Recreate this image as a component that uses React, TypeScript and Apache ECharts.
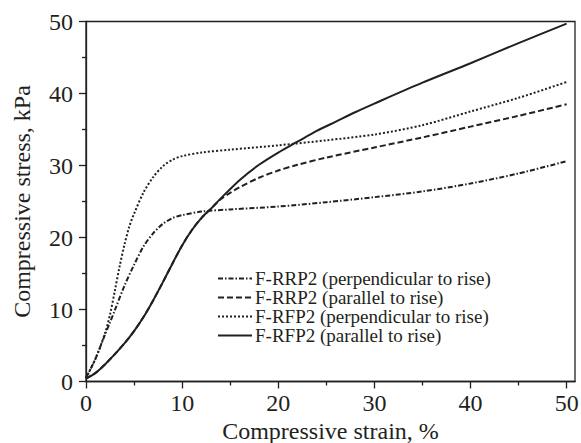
import React, { useEffect, useRef } from "react";
import * as echarts from "echarts";

const seriesNames = [
  "F-RRP2 (perpendicular to rise)",
  "F-RRP2 (parallel to rise)",
  "F-RFP2 (perpendicular to rise)",
  "F-RFP2 (parallel to rise)",
];

const rrpPerp: number[][] = [
  [0, 0.5], [1, 3.2], [2, 6.6], [2.5, 8.2], [3, 9.9], [4, 13.3], [5, 16.2], [6, 18.8],
  [7, 20.6], [8, 21.9], [9, 22.7], [10, 23.1], [12, 23.6], [15, 23.9], [20, 24.3],
  [25, 24.9], [30, 25.6], [35, 26.4], [40, 27.5], [45, 28.9], [50, 30.6],
];

const rrpPar: number[][] = [
  [0, 0.4], [1, 1.2], [2, 2.4], [3, 3.8], [4, 5.3], [5, 7], [6, 9], [7, 11.3], [8, 13.8],
  [9, 16.4], [10, 18.9], [11, 21], [12, 22.7], [13, 24], [14, 25.3], [15, 26.2], [16, 27],
  [18, 28.3], [20, 29.3], [22, 30.1], [25, 31.1], [30, 32.5], [35, 33.9], [40, 35.4],
  [45, 36.9], [50, 38.5],
];

const rfpPerp: number[][] = [
  [0, 0.5], [1, 3.2], [2, 6.8], [2.5, 9.3], [3, 12.6], [3.5, 16], [4, 19], [4.5, 21.5],
  [5, 23.3], [6, 26.3], [7, 28.4], [8, 29.9], [9, 30.8], [10, 31.3], [12, 31.8], [15, 32.2],
  [20, 32.8], [25, 33.5], [30, 34.3], [35, 35.6], [40, 37.5], [45, 39.4], [50, 41.6],
];

const rfpPar: number[][] = [
  [0, 0.4], [1, 1.2], [2, 2.4], [3, 3.8], [4, 5.3], [5, 7], [6, 9], [7, 11.3], [8, 13.8],
  [9, 16.4], [10, 18.9], [11, 21], [12, 22.7], [13, 24], [14, 25.4], [16, 28], [18, 30.1],
  [20, 31.8], [22, 33.3], [24, 34.8], [26, 36.1], [28, 37.4], [30, 38.6], [35, 41.5],
  [40, 44.2], [45, 47], [50, 49.7],
];

const xMajorTicks = [0, 10, 20, 30, 40, 50];
const xMinorTicks = [5, 15, 25, 35, 45];

const FONT = "'Liberation Serif', 'Times New Roman', serif";
const INK = "#231f20";

export default function App() {
  const ref = useRef<HTMLDivElement>(null);
  useEffect(() => {
    if (!ref.current) return;
    const chart = echarts.init(ref.current, undefined, { renderer: "svg" });
    const dashTypes: any[] = [[5, 2, 1.5, 2], [6, 3], [2, 2], "solid"];
    const datas = [rrpPerp, rrpPar, rfpPerp, rfpPar];
    chart.setOption({
      animation: false,
      backgroundColor: "#fff",
      grid: {
        left: 86,
        top: 21.5,
        width: 489,
        height: 360,
        show: true,
        borderColor: INK,
        borderWidth: 1.3,
        backgroundColor: "transparent",
        containLabel: false,
        outerBoundsMode: "none",
      },
      legend: {
        show: true,
        orient: "vertical",
        left: 212,
        top: 264,
        itemWidth: 34,
        itemHeight: 12,
        itemGap: 0,
        selectedMode: false,
        data: seriesNames,
        itemStyle: { opacity: 0 },
        textStyle: {
          fontFamily: FONT,
          fontSize: 19,
          color: INK,
          padding: [0, 0, 0, -2],
        },
      },
      xAxis: [
        {
          type: "value",
          min: 0,
          max: 50.87,
          name: "Compressive strain, %",
          nameLocation: "middle",
          nameGap: 32,
          nameTextStyle: { fontFamily: FONT, fontSize: 24, color: INK },
          axisLine: { show: true, lineStyle: { color: INK, width: 1.3 } },
          axisTick: { show: true, length: 7, customValues: xMajorTicks, lineStyle: { color: INK, width: 1.3 } },
          axisLabel: { customValues: xMajorTicks, margin: 9, fontFamily: FONT, fontSize: 24, color: INK },
          splitLine: { show: false },
        },
        {
          type: "value",
          min: 0,
          max: 50.87,
          position: "bottom",
          axisLine: { show: false },
          axisTick: { show: true, length: 4, customValues: xMinorTicks, lineStyle: { color: INK, width: 1.3 } },
          axisLabel: { show: false },
          splitLine: { show: false },
        },
      ],
      yAxis: {
        type: "value",
        min: 0,
        max: 50,
        interval: 10,
        name: "Compressive stress, kPa",
        nameLocation: "middle",
        nameGap: 52,
        nameTextStyle: { fontFamily: FONT, fontSize: 24, color: INK },
        axisLine: { show: true, lineStyle: { color: INK, width: 1.3 } },
        axisTick: { show: true, length: 7, lineStyle: { color: INK, width: 1.3 } },
        minorTick: { show: true, splitNumber: 2, length: 4, lineStyle: { color: INK, width: 1.3 } },
        axisLabel: { margin: 13, fontFamily: FONT, fontSize: 24, color: INK },
        splitLine: { show: false },
      },
      series: seriesNames.map((name, i) => ({
        name,
        type: "line",
        xAxisIndex: 0,
        data: datas[i],
        smooth: 0.3,
        symbol: "none",
        lineStyle: { color: INK, width: 2, type: dashTypes[i] },
        itemStyle: { color: INK },
      })),
    });
    return () => chart.dispose();
  }, []);
  return <div ref={ref} style={{ width: 581, height: 443, position: "absolute", left: 0, top: 0 }} />;
}
